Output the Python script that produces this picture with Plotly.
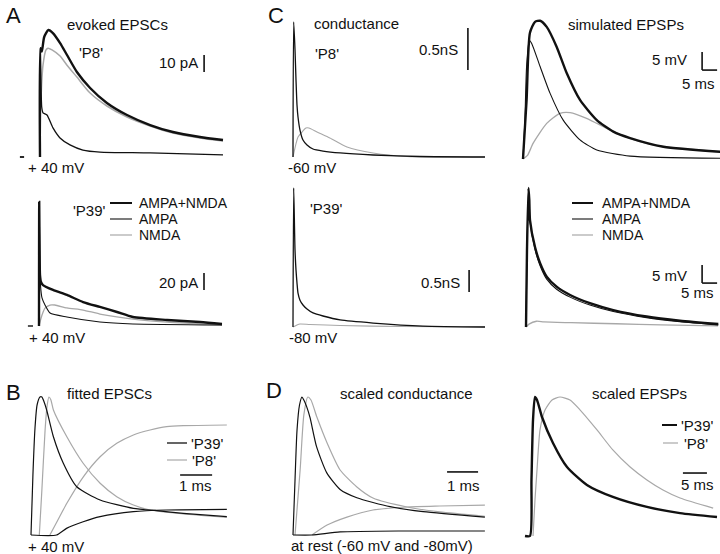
import plotly.graph_objects as go

W, H = 720, 554
BLACK = "#111111"
GRAY = "#a8a8a8"
FONT = "Liberation Sans, Arial, sans-serif"

# ---- A: evoked EPSCs (time ms, current pA) ----
a8_t_comb = [0, 0.15, 0.6, 1.4, 2.8, 4.3, 6.7, 9, 12.3, 16.7, 22.3, 29, 36.7, 44.3, 53.3, 61]
a8_comb = [0, 64, 62, 70.6, 74.7, 72.9, 67, 60, 50, 40.6, 31.8, 24.7, 18.8, 14.7, 11.8, 10]
a8_t_nmda = [0, 0.33, 1, 2, 2.7, 4, 6.7, 9, 12.3, 16.7, 22.3, 29, 36.7, 44.3, 53.3, 61]
a8_nmda = [0, 33.5, 54, 63, 64, 63, 59.4, 54, 47, 37.6, 30, 23.5, 18.2, 14.1, 11.2, 9.4]
a8_t_ampa = [0, 0.13, 0.33, 0.57, 1.0, 2.33, 4.33, 6.67, 10, 14.3, 20, 36.7, 61]
a8_ampa = [0, 64, 45, 29.4, 26, 24.7, 17.1, 11.2, 7.1, 4.1, 2.9, 2.4, 1.2]

a39_t_comb = [0, 0.07, 0.2, 0.33, 0.67, 1.33, 4.67, 9.33, 14.7, 20.3, 26, 31.3, 42.7, 53.7, 61]
a39_comb = [0, 146, 89, 60, 51.8, 48.2, 42.4, 36.5, 28.2, 22.4, 16.5, 10.6, 7.1, 4.7, 2.4]
a39_t_ampa = [0, 0.07, 0.27, 0.5, 1, 2, 3.67, 9.3, 20.3, 31.3, 61]
a39_ampa = [0, 146, 77.6, 48, 33, 24.7, 15.3, 10.6, 4.7, 2.4, 1.2]
a39_t_nmda = [0, 1, 2, 3.67, 5.3, 9.3, 14.7, 20.3, 31.3, 42.7, 61]
a39_nmda = [0, 12.9, 21, 24.7, 24.7, 21.2, 18.8, 14.1, 8.2, 4.7, 1.2]

# ---- C: conductance (ms, nS) ----
c8_t_ampa = [0, 0.23, 0.67, 1, 1.33, 1.67, 2.33, 3.33, 4.67, 6.67, 10, 15.7, 26.7, 42.3, 64]
c8_ampa = [0, 1.607, 1.274, 0.917, 0.619, 0.476, 0.321, 0.202, 0.143, 0.095, 0.071, 0.048, 0.024, 0.006, 0]
c8_t_nmda = [0, 1.67, 3.3, 4.3, 5.3, 8, 12.3, 18, 26.7, 38, 64]
c8_nmda = [0, 0.238, 0.31, 0.345, 0.345, 0.298, 0.226, 0.119, 0.048, 0.006, 0]

c39_t_ampa = [0, 0.23, 0.67, 1, 1.33, 1.67, 2.33, 3.33, 4.67, 6.67, 10, 15.7, 26.7, 43.3, 64]
c39_ampa = [0, 3.16, 1.75, 1.295, 1.0, 0.77, 0.61, 0.5, 0.41, 0.32, 0.25, 0.16, 0.09, 0.02, 0]
c39_t_nmda = [0, 1.33, 2.33, 5.67, 15.7, 35.7, 64]
c39_nmda = [0, 0.045, 0.068, 0.057, 0.034, 0.011, 0]

# ---- simulated EPSPs (ms, mV) ----
e8_t_comb = [0, 1.2, 2.3, 4, 5.7, 7.9, 11.2, 14.6, 19, 24.6, 30.1, 35.7, 46.8, 65.7]
e8_comb = [0, 16.4, 35, 38.1, 38.4, 36.7, 31.2, 23.8, 16.4, 10.8, 7.6, 5.8, 3.4, 2.0]
e8_t_ampa = [0, 0.6, 1.2, 2.1, 2.9, 5.7, 9, 13.4, 19, 24.6, 35.7, 65.7]
e8_ampa = [0, 10, 25.7, 33, 32.1, 25.7, 18.3, 10.8, 5.3, 2.5, 0.8, 0.2]
e8_t_nmda = [0, 1.5, 3.4, 7.9, 12.3, 15.7, 21.2, 30.1, 39, 46.8, 65.7]
e8_nmda = [0, 1.0, 4.4, 9.9, 12.7, 12.9, 11.3, 7.6, 4.8, 3.4, 2.0]

e39_t = [0, 0.33, 0.83, 1.1, 1.33, 3, 4.67, 6.9, 10.2, 14.7, 21.3, 29.1, 40.2, 51.3, 64.1]
e39_comb = [0, 21.4, 38.6, 35.3, 29.7, 22.2, 17.8, 14.0, 11.2, 8.9, 6.6, 4.7, 2.9, 1.75, 0.83]
e39_ampa = [0, 21, 38.3, 35, 29.3, 21.6, 17.1, 13.3, 10.5, 8.3, 6.1, 4.3, 2.6, 1.5, 0.6]
e39_t_nmda = [0, 1, 3.5, 6, 15, 30, 45, 64]
e39_nmda = [0, 0.8, 1.6, 1.4, 1.2, 0.9, 0.6, 0.3]

# ---- B: fitted EPSCs (ms, normalised) ----
b39_t_ampa = [0, 0.06, 0.125, 0.19, 0.28, 0.34, 0.41, 0.49, 0.70, 1.01, 1.43, 2.16, 3.2, 3.93, 4.76, 6.12]
b39_ampa = [0, 0.435, 0.775, 0.942, 1.0, 1.0, 0.964, 0.906, 0.712, 0.52, 0.35, 0.254, 0.193, 0.176, 0.157, 0.133]
b39_t_nmda = [0, 0.8, 1.11, 1.63, 2.16, 3.2, 4.24, 6.12]
b39_nmda = [0, 0, 0.048, 0.096, 0.133, 0.169, 0.181, 0.186]
b8_t_ampa = [0.26, 0.34, 0.44, 0.50, 0.56, 0.62, 0.70, 1.12, 1.63, 2.16, 2.68, 3.2, 3.72, 4.76, 6.12]
b8_ampa = [0, 0.326, 0.76, 0.93, 1.0, 0.98, 0.906, 0.712, 0.52, 0.375, 0.278, 0.217, 0.181, 0.152, 0.128]
b8_t_nmda = [0.59, 0.84, 1.12, 1.63, 2.16, 2.68, 3.2, 3.72, 4.24, 4.76, 6.12]
b8_nmda = [0, 0.109, 0.23, 0.42, 0.567, 0.664, 0.725, 0.761, 0.785, 0.792, 0.797]

# ---- D: scaled conductance (ms, normalised) ----
d39_t_ampa = [0, 0.065, 0.13, 0.21, 0.29, 0.35, 0.44, 0.55, 0.76, 1.09, 1.52, 2.06, 3.13, 4.2, 6.19]
d39_ampa = [0, 0.399, 0.761, 0.942, 1.0, 0.978, 0.93, 0.85, 0.64, 0.45, 0.33, 0.27, 0.205, 0.169, 0.13]
d39_t_nmda = [0, 0.61, 1.52, 3.45, 6.19]
d39_nmda = [0, 0, 0.022, 0.029, 0.029]
d8_t_ampa = [0.065, 0.23, 0.35, 0.48, 0.58, 0.77, 1.10, 1.52, 2.06, 2.58, 3.68, 4.74, 6.19]
d8_ampa = [0, 0.471, 0.87, 1.0, 0.978, 0.855, 0.667, 0.471, 0.348, 0.268, 0.203, 0.167, 0.136]
d8_t_nmda = [0.61, 1.10, 1.74, 2.58, 3.68, 4.74, 6.19]
d8_nmda = [0, 0.072, 0.130, 0.181, 0.203, 0.21, 0.217]

# ---- scaled EPSPs (ms, normalised) ----
s39_t = [0, 1.04, 1.35, 1.67, 2.08, 2.5, 3.13, 3.54, 5.83, 8.75, 12.9, 18.3, 25.4, 32.3, 40]
s39 = [0, 0, 0.403, 0.835, 1.0, 0.978, 0.906, 0.856, 0.669, 0.496, 0.367, 0.281, 0.209, 0.165, 0.137]
s8_t = [1.67, 2.08, 2.5, 3.13, 4.17, 5.63, 7.29, 9.38, 11.5, 15, 18.3, 21.9, 25.4, 28.75, 32.3, 39.2]
s8 = [0, 0.259, 0.475, 0.763, 0.906, 0.978, 1.0, 0.978, 0.906, 0.763, 0.619, 0.496, 0.403, 0.331, 0.273, 0.201]

fig = go.Figure()
layout = dict(width=W, height=H, margin=dict(l=0, r=0, t=0, b=0),
              paper_bgcolor="white", plot_bgcolor="rgba(0,0,0,0)",
              showlegend=False, font=dict(family=FONT, size=15, color=BLACK))

# panel boxes in pixels: left, right, top, bottom, origin x/y, px per unit x/y
panels = {
    1: (15, 235, 0, 180, 40, 157, 3, 1.7),
    2: (15, 235, 190, 345, 39, 326, 3, 0.85),
    3: (280, 490, 0, 180, 293, 157, 3, 84),
    4: (280, 490, 180, 345, 293, 327, 3, 44),
    5: (500, 720, 0, 180, 523, 159, 3, 3.6),
    6: (500, 720, 180, 345, 526, 327, 3, 3.6),
    7: (15, 235, 380, 554, 31, 535, 32, 138),
    8: (280, 490, 380, 554, 293, 535, 31, 138),
    9: (500, 720, 380, 554, 525, 536, 4.8, 139),
}
for n, (l, r, t, b, ox, oy, sx, sy) in panels.items():
    sfx = "" if n == 1 else str(n)
    layout["xaxis" + sfx] = dict(domain=[l / W, r / W], range=[(l - ox) / sx, (r - ox) / sx],
                                 visible=False, anchor="y" + sfx, fixedrange=True)
    layout["yaxis" + sfx] = dict(domain=[1 - b / H, 1 - t / H], range=[(oy - b) / sy, (oy - t) / sy],
                                 visible=False, anchor="x" + sfx, fixedrange=True)


def trace(n, x, y, color, width):
    sfx = "" if n == 1 else str(n)
    fig.add_trace(go.Scatter(x=x, y=y, mode="lines", xaxis="x" + sfx, yaxis="y" + sfx,
                             line=dict(color=color, width=width, shape="spline", smoothing=0.6),
                             hoverinfo="skip"))


THICK, THIN = 2.4, 1.1
trace(1, a8_t_nmda, a8_nmda, GRAY, 1.5)
trace(1, a8_t_ampa, a8_ampa, BLACK, 1.3)
trace(1, a8_t_comb, a8_comb, BLACK, THICK)
trace(2, a39_t_nmda, a39_nmda, GRAY, 1.3)
trace(2, a39_t_ampa, a39_ampa, BLACK, THIN)
trace(2, a39_t_comb, a39_comb, BLACK, THICK)
trace(3, c8_t_nmda, c8_nmda, GRAY, THIN)
trace(3, c8_t_ampa, c8_ampa, BLACK, 1.3)
trace(4, c39_t_nmda, c39_nmda, GRAY, THIN)
trace(4, c39_t_ampa, c39_ampa, BLACK, 1.3)
trace(5, e8_t_nmda, e8_nmda, GRAY, 1.3)
trace(5, e8_t_ampa, e8_ampa, BLACK, THIN)
trace(5, e8_t_comb, e8_comb, BLACK, THICK)
trace(6, e39_t_nmda, e39_nmda, GRAY, 1.3)
trace(6, e39_t, e39_ampa, BLACK, THIN)
trace(6, e39_t, e39_comb, BLACK, THICK)
trace(7, b8_t_nmda, b8_nmda, GRAY, 1.2)
trace(7, b8_t_ampa, b8_ampa, GRAY, 1.2)
trace(7, b39_t_nmda, b39_nmda, BLACK, 1.2)
trace(7, b39_t_ampa, b39_ampa, BLACK, 1.2)
trace(8, d8_t_nmda, d8_nmda, GRAY, 1.2)
trace(8, d8_t_ampa, d8_ampa, GRAY, 1.2)
trace(8, d39_t_nmda, d39_nmda, BLACK, 1.2)
trace(8, d39_t_ampa, d39_ampa, BLACK, 1.2)
trace(9, s8_t, s8, GRAY, 1.2)
trace(9, s39_t, s39, BLACK, THICK)

shapes = []


def bar(n, x0, y0, x1, y1, w=1.6):
    sfx = "" if n == 1 else str(n)
    shapes.append(dict(type="line", xref="x" + sfx, yref="y" + sfx, x0=x0, y0=y0, x1=x1, y1=y1,
                       line=dict(color=BLACK, width=w)))


# scale bars (in data units)
bar(1, 54.7, 50, 54.7, 60)          # 10 pA
bar(2, 55, 42.4, 55, 62.4)          # 20 pA
bar(3, 58.3, 1.036, 58.3, 1.536)    # 0.5 nS
bar(4, 58.7, 0.795, 58.7, 1.295)    # 0.5 nS
bar(5, 59.7, 24.7, 59.7, 29.7)      # 5 mV
bar(5, 59.7, 24.7, 64.7, 24.7)      # 5 ms
bar(6, 58.7, 12.2, 58.7, 17.2)
bar(6, 58.7, 12.2, 63.7, 12.2)
bar(7, 4.66, 0.435, 5.66, 0.435)    # 1 ms
bar(8, 4.97, 0.457, 5.97, 0.457)    # 1 ms
bar(9, 32.9, 0.453, 37.9, 0.453)    # 5 ms
# baseline markers
bar(1, -6.7, 0, -5.3, 0, 1.8)
bar(2, -3.7, 0, -2.0, 0, 1.4)


def pline(x0, x1, y, color, w):
    shapes.append(dict(type="line", xref="paper", yref="paper", x0=x0 / W, x1=x1 / W,
                       y0=1 - y / H, y1=1 - y / H, line=dict(color=color, width=w)))


# legend keys
for lx0, lx1 in [(110, 132), (572, 593)]:
    pline(lx0, lx1, 203, BLACK, 2.0)
    pline(lx0, lx1, 219, BLACK, 1.1)
    pline(lx0, lx1, 235, GRAY, 1.2)
pline(167, 187, 443, BLACK, 1.3)
pline(167, 187, 460, GRAY, 1.2)
pline(662, 677, 425, BLACK, 2.0)
pline(663, 678, 443, GRAY, 1.2)

layout["shapes"] = shapes

ann = []


def text(x, y, s, anchor="left", size=15):
    ann.append(dict(x=x / W, y=1 - y / H, xref="paper", yref="paper", text=s, showarrow=False,
                    xanchor=anchor, yanchor="middle", font=dict(family=FONT, size=size, color=BLACK)))


text(4, 15, "A", size=22)
text(65, 25, "evoked EPSCs")
text(77, 52, "'P8'")
text(200, 62, "10 pA", "right")
text(26, 167, "+ 40 mV")
text(71, 210, "'P39'")
text(137, 203, "AMPA+NMDA", size=14)
text(137, 219, "AMPA", size=14)
text(137, 235, "NMDA", size=14)
text(200, 282, "20 pA", "right")
text(27, 337, "+ 40 mV")
text(4, 392, "B", size=22)
text(65, 393, "fitted EPSCs")
text(189, 443, "'P39'")
text(190, 460, "'P8'")
text(196, 485, "1 ms", "center")
text(26, 546, "+ 40 mV")

text(266, 15, "C", size=22)
text(312, 24, "conductance")
text(313, 53, "'P8'")
text(460, 50, "0.5nS", "right")
text(286, 167, "-60 mV")
text(308, 208, "'P39'")
text(462, 282, "0.5nS", "right")
text(287, 337, "-80 mV")
text(264, 390, "D", size=22)
text(338, 393, "scaled conductance")
text(463, 485, "1 ms", "center")
text(289, 545, "at rest (-60 mV and -80mV)")

text(566, 25, "simulated EPSPs")
text(689, 60, "5 mV", "right")
text(717, 83, "5 ms", "right")
text(600, 203, "AMPA+NMDA", size=14)
text(600, 219, "AMPA", size=14)
text(600, 235, "NMDA", size=14)
text(689, 275, "5 mV", "right")
text(716, 292, "5 ms", "right")
text(590, 393, "scaled EPSPs")
text(679, 425, "'P39'")
text(682, 443, "'P8'")
text(697, 484, "5 ms", "center")

layout["annotations"] = ann
fig.update_layout(**layout)
fig.write_html("out.html", config={"displayModeBar": False, "staticPlot": True},
               post_script="document.body.style.margin='0';")
